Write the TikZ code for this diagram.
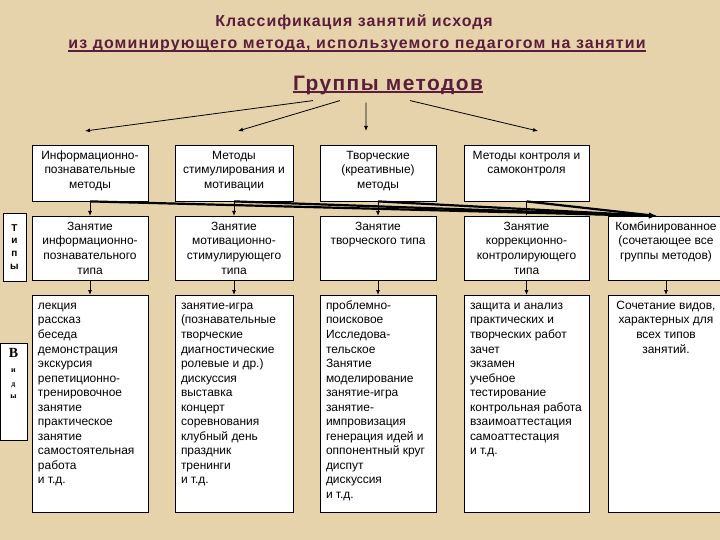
\documentclass[tikz,border=0pt]{standalone}
\usepackage{fontspec}
\setmainfont{Liberation Sans}
\newfontfamily\serifcyr{Liberation Serif}
\usetikzlibrary{arrows.meta,positioning,calc}
\definecolor{Parchment}{HTML}{E6D3AB}
\definecolor{Maroon}{HTML}{5A1E3C}
\newcommand{\cellc}[3]{\parbox[t][#2][t]{#1}{\centering\strut #3}}
\newcommand{\celll}[3]{\parbox[t][#2][t]{#1}{\raggedright\strut #3}}
\newcommand{\thickul}[2]{\setbox0\hbox{#2}\leavevmode\rlap{\rule[-3bp]{\wd0}{#1}}\box0}

\begin{document}
\begin{tikzpicture}[x=1bp,y=-1bp,cell/.style={draw=black,fill=white,anchor=north,inner xsep=3bp,inner ysep=4bp,font=\fontsize{12}{14.6}\selectfont},list/.style={cell,inner xsep=6bp},arr/.style={-{Latex[length=5bp,width=4bp]},draw=black,line width=0.8bp},thk/.style={-{Latex[length=8bp,width=5.5bp]},draw=black,line width=2.2bp},ttl/.style={text=Maroon,inner sep=1bp}]
\fill[Parchment] (0,0) rectangle (720,540);
\useasboundingbox (0,0) rectangle (720,540);
% titles
\node[ttl,font=\bfseries\fontsize{16}{18}\selectfont\addfontfeature{LetterSpace=6}] (head1) at (354,22) {Классификация занятий исходя};
\node[ttl,font=\bfseries\fontsize{16}{18}\selectfont\addfontfeature{LetterSpace=7}] (head2) at (357,46) {\thickul{1.4bp}{из доминирующего метода, используемого педагогом на занятии}};
\node[ttl,font=\bfseries\fontsize{21}{24}\selectfont\addfontfeature{LetterSpace=7}] (grp) at (388,85) {\thickul{2bp}{Группы методов}};
% groups of methods
\node[cell] (m1) at (90,145) {\cellc{110bp}{48bp}{Информационно-\\познавательные\\методы}};
\node[cell] (m2) at (234,145) {\cellc{112bp}{48bp}{Методы\\стимулирования и\\мотивации}};
\node[cell] (m3) at (378,145) {\cellc{110bp}{48bp}{Творческие\\(креативные)\\методы}};
\node[cell] (m4) at (526.5,145) {\cellc{119bp}{48bp}{Методы контроля и\\самоконтроля}};
% types
\node[cell] (t1) at (90,216) {\cellc{110bp}{56bp}{Занятие\\информационно-\\познавательного\\типа}};
\node[cell] (t2) at (234,216) {\cellc{112bp}{56bp}{Занятие\\мотивационно-\\стимулирующего\\типа}};
\node[cell] (t3) at (378,216) {\cellc{110bp}{56bp}{Занятие\\творческого типа}};
\node[cell] (t4) at (526.5,216) {\cellc{119bp}{56bp}{Занятие\\коррекционно-\\контролирующего\\типа}};
\node[cell] (t5) at (666,216) {\cellc{110bp}{56bp}{Комбинированное\\(сочетающее все\\группы методов)}};
% kinds
\node[list] (v1) at (90,295) {\celll{104bp}{209bp}{лекция\\рассказ\\беседа\\демонстрация\\экскурсия\\репетиционно-\\тренировочное\\занятие\\практическое\\занятие\\самостоятельная\\работа\\и т.д.}};
\node[list] (v2) at (234,295) {\celll{106bp}{209bp}{занятие-игра\\(познавательные\\творческие\\диагностические\\ролевые и др.)\\дискуссия\\выставка\\концерт\\соревнования\\клубный день\\праздник\\тренинги\\и т.д.}};
\node[list] (v3) at (378,295) {\celll{104bp}{209bp}{проблемно-\\поисковое\\Исследова-\\тельское\\Занятие\\моделирование\\занятие-игра\\занятие-\\импровизация\\генерация идей и\\оппонентный круг\\диспут\\дискуссия\\и т.д.}};
\node[list] (v4) at (526.5,295) {\celll{113bp}{209bp}{защита и анализ\\практических и\\творческих работ\\зачет\\экзамен\\учебное\\тестирование\\контрольная работа\\взаимоаттестация\\самоаттестация\\и т.д.}};
\node[cell] (v5) at (666,295) {\cellc{110bp}{209bp}{Сочетание видов,\\характерных для\\всех типов\\занятий.}};
% side labels
\node[draw=black,fill=white,inner sep=0pt,minimum width=23bp,minimum height=68bp,font=\bfseries\fontsize{10}{13}\selectfont,align=center] (types) at (14.5,247) {Т\\и\\п\\ы};
\node[draw=black,fill=white,anchor=north,inner sep=0pt] (kinds) at (13.5,343) {\parbox[t][97bp][t]{27bp}{\centering\serifcyr\bfseries\vspace*{5bp}{\fontsize{14}{15}\selectfont В}\\[1bp]{\fontsize{8}{14}\selectfont и\\д\\ы}}};
% arrows from the heading
\coordinate (g1) at (85,131);
\coordinate (g2) at (238,131);
\coordinate (g3) at (366,131);
\coordinate (g4) at (538,131);
\draw[arr] ([xshift=-75bp,yshift=-5bp]grp.south) -- (g1);
\draw[arr] ([xshift=-48bp,yshift=-5bp]grp.south) -- (g2);
\draw[arr] ([xshift=-22bp,yshift=-7bp]grp.south) -- (g3);
\draw[arr] ([xshift=22bp,yshift=-5bp]grp.south) -- (g4);
% methods to types
\foreach \i in {1,...,4}
  \draw[arr] (m\i.south) -- (t\i.north);
% all groups to the combined type
\coordinate (join) at (657,216);
\foreach \i in {1,...,4}
  \draw[thk] (m\i.south) -- (join);
% types to kinds
\foreach \i in {1,...,5}
  \draw[arr] (t\i.south) -- (v\i.north);
\end{tikzpicture}
\end{document}
